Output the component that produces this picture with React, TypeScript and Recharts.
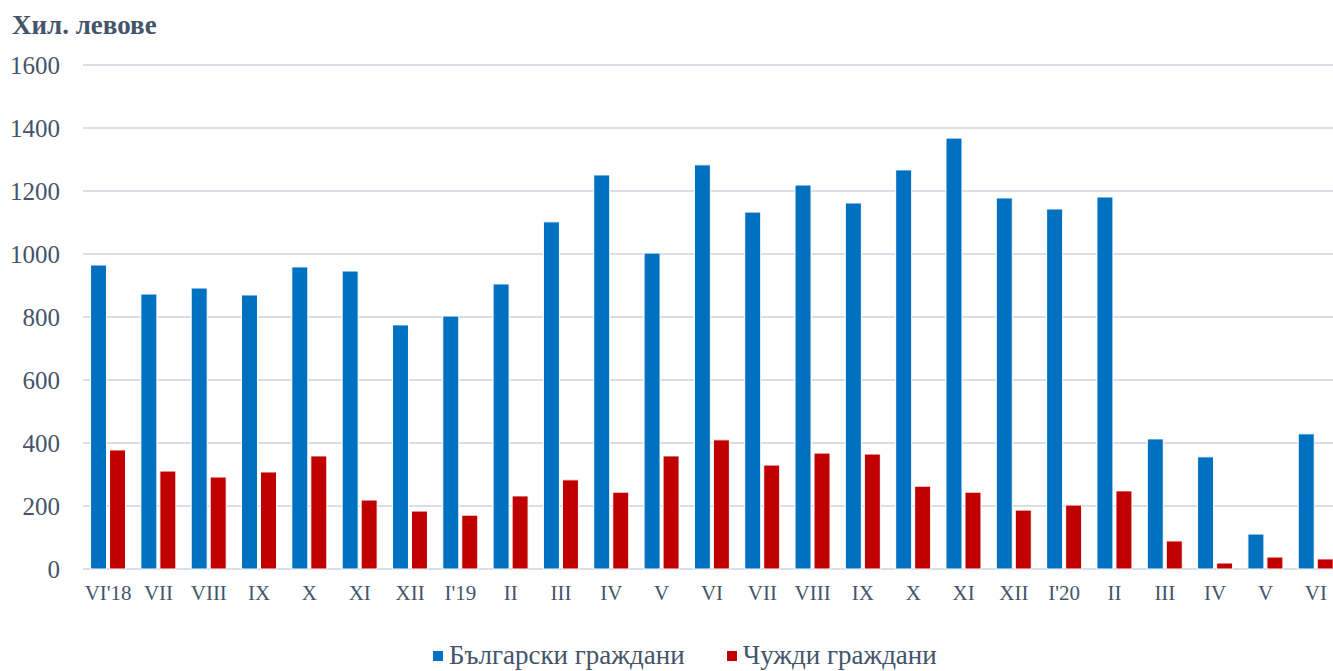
import { BarChart, Bar, XAxis, YAxis, CartesianGrid, Legend } from "recharts";

const months = [
  "VI'18", "VII", "VIII", "IX", "X", "XI", "XII", "I'19", "II", "III", "IV", "V", "VI",
  "VII", "VIII", "IX", "X", "XI", "XII", "I'20", "II", "III", "IV", "V", "VI",
];

// Български граждани
const bulgarian = [
  965, 873, 892, 870, 959, 946, 775, 803, 905, 1102, 1251, 1003, 1283,
  1133, 1219, 1162, 1267, 1368, 1178, 1143, 1181, 413, 356, 111, 429,
];

// Чужди граждани
const foreign = [
  378, 311, 292, 308, 359, 219, 184, 171, 232, 283, 244, 359, 410,
  330, 368, 365, 263, 244, 187, 203, 248, 89, 19, 38, 32,
];

const yTicks = [0, 200, 400, 600, 800, 1000, 1200, 1400, 1600];

const BLUE = "#0070C0";
const RED = "#C00000";
const TEXT = "#44546A";
const FONT = "'Liberation Serif', 'Times New Roman', serif";

const data = months.map((m, i) => ({ m, bg: bulgarian[i], fr: foreign[i] }));

const legendItems = [
  { label: "Български граждани", color: BLUE },
  { label: "Чужди граждани", color: RED },
];

function LegendBox() {
  return (
    <div style={{ display: "flex", gap: 42, fontFamily: FONT }}>
      {legendItems.map((it) => (
        <div key={it.label} style={{ display: "flex", alignItems: "center", gap: 6 }}>
          <span style={{ width: 10, height: 10, background: it.color, display: "inline-block" }} />
          <span style={{ fontSize: 27, color: TEXT }}>{it.label}</span>
        </div>
      ))}
    </div>
  );
}

export default function App() {
  return (
    <div
      style={{
        position: "absolute",
        left: 0,
        top: 0,
        width: 1333,
        height: 671,
        overflow: "hidden",
        background: "#fff",
      }}
    >
      <div
        style={{
          position: "absolute",
          left: 12,
          top: 10,
          fontFamily: FONT,
          fontWeight: "bold",
          fontSize: 27,
          color: TEXT,
        }}
      >
        Хил. левове
      </div>
      <BarChart
        width={1345}
        height={671}
        data={data}
        margin={{ top: 65, right: 4, bottom: 72, left: 0 }}
        barCategoryGap="15%"
        barGap={3}
      >
        <CartesianGrid vertical={false} stroke="#D9DEE7" strokeWidth={2} />
        <XAxis
          dataKey="m"
          axisLine={false}
          tickLine={false}
          interval={0}
          tickMargin={10}
          tick={{ fill: TEXT, fontSize: 21, fontFamily: FONT }}
        />
        <YAxis
          width={83}
          domain={[0, 1600]}
          ticks={yTicks}
          axisLine={false}
          tickLine={false}
          tickMargin={17}
          tick={{ fill: TEXT, fontSize: 25, fontFamily: FONT }}
        />
        <Legend
          verticalAlign="middle"
          content={<LegendBox />}
          wrapperStyle={{ top: 640, left: 433, width: 620 }}
        />
        <Bar dataKey="bg" name="Български граждани" fill={BLUE} stroke="#fff" strokeWidth={1} isAnimationActive={false} />
        <Bar dataKey="fr" name="Чужди граждани" fill={RED} stroke="#fff" strokeWidth={1} isAnimationActive={false} />
      </BarChart>
    </div>
  );
}
